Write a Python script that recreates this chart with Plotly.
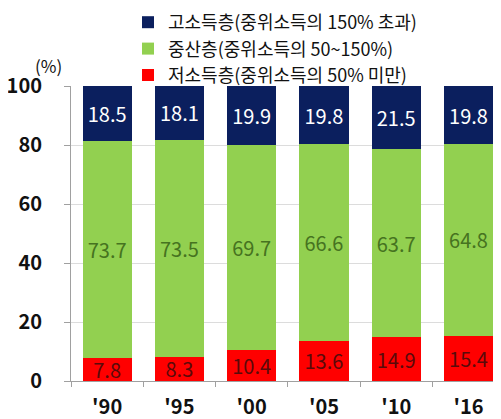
import plotly.graph_objects as go

years = ["'90", "'95", "'00", "'05", "'10", "'16"]
low = [7.8, 8.3, 10.4, 13.6, 14.9, 15.4]
mid = [73.7, 73.5, 69.7, 66.6, 63.7, 64.8]
high = [18.5, 18.1, 19.9, 19.8, 21.5, 19.8]
y_ticks = [0, 20, 40, 60, 80, 100]

names = ["저소득층(중위소득의 50% 미만)", "중산층(중위소득의 50~150%)", "고소득층(중위소득의 150% 초과)"]
colors = ["#ff0000", "#92d050", "#0b1f5e"]
text_colors = ["#5a0a0a", "#467320", "#ffffff"]

FONT = "Noto Sans CJK KR"
fig = go.Figure()
for vals, name, c, tc in zip([low, mid, high], names, colors, text_colors):
    fig.add_trace(go.Bar(
        x=years, y=vals, name=name, marker=dict(color=c, line=dict(width=0)),
        text=[f"{v:.1f}" for v in vals], textposition="inside",
        insidetextanchor="middle", textangle=0, constraintext="none",
        textfont=dict(family=FONT, size=20, color=tc),
        hoverinfo="skip",
    ))

# page body has an 8px margin, so the figure is sized/offset to compensate
W, H = 493, 411
L, R, T, B = 63, 0, 78, 38
PW, PH = W - L - R, H - T - B
fig.update_layout(
    barmode="stack", bargap=0.32,
    width=W, height=H,
    margin=dict(l=L, r=R, t=T, b=B, autoexpand=False),
    paper_bgcolor="white", plot_bgcolor="white",
    font=dict(family=FONT, color="#111111"),
    uniformtext=dict(minsize=20, mode="show"),
    legend=dict(
        traceorder="reversed", orientation="v",
        x=(120 - L) / PW, y=(H - B + 4) / PH, xref="paper", yref="paper",
        xanchor="left", yanchor="top",
        font=dict(family=FONT, size=18, color="#111111"),
        itemwidth=30, tracegroupgap=0, bgcolor="rgba(0,0,0,0)",
    ),
    showlegend=True,
    xaxis=dict(
        range=[-0.5, 5.45], showgrid=False, ticks="outside", ticklen=5,
        tickson="boundaries", tickcolor="#a0a0a0", automargin=False,
        showline=True, linecolor="#a0a0a0", linewidth=1,
        tickfont=dict(family=FONT, size=20, color="#111111", weight="bold"),
        ticklabelstandoff=8,
    ),
    yaxis=dict(
        range=[0, 100], tickvals=y_ticks, showgrid=True, gridcolor="#dcdcdc",
        ticks="outside", ticklen=6, tickcolor="#a0a0a0", automargin=False,
        showline=True, linecolor="#a0a0a0", linewidth=1, zeroline=False,
        tickfont=dict(family=FONT, size=20, color="#111111", weight="bold"),
        ticklabelstandoff=18,
    ),
    annotations=[dict(
        text="(%)", x=(40 - L) / PW, y=(H - B - 58) / PH,
        xref="paper", yref="paper", showarrow=False,
        xanchor="center", yanchor="middle",
        font=dict(family=FONT, size=17, color="#111111"),
    )],
)
fig.write_html("out.html")
